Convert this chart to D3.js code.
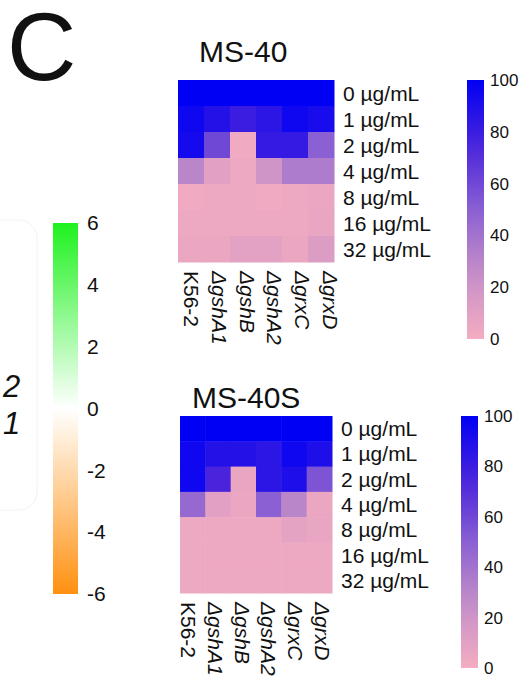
<!DOCTYPE html>
<html lang="en">
<head>
<meta charset="UTF-8">
<title>Panel C: MS-40 / MS-40S growth heatmaps</title>
<script src="https://d3js.org/d3.v7.min.js"></script>
<style>
    body { margin: 0; background: #fff; font-family: "Liberation Sans", Arial, Helvetica, sans-serif; }
    svg text { fill: #111; }
</style>
</head>
<body>
<div id="chart"></div>
<script>
// strains (columns) and concentrations (rows)
const strains = ["K56-2", "ΔgshA1", "ΔgshB", "ΔgshA2", "ΔgrxC", "ΔgrxD"];
const doses = ["0 µg/mL", "1 µg/mL", "2 µg/mL", "4 µg/mL", "8 µg/mL", "16 µg/mL", "32 µg/mL"];

// relative growth (%), one row per dose
const ms40 = [
    [100, 100, 100, 100, 100, 100],
    [95, 88, 80, 85, 95, 92],
    [93, 60, 2, 82, 82, 50],
    [30, 10, 3, 20, 35, 35],
    [2, 3, 3, 2, 3, 5],
    [3, 4, 4, 3, 3, 6],
    [5, 5, 9, 9, 5, 13]
];
const ms40s = [
    [100, 100, 100, 100, 100, 100],
    [95, 88, 88, 85, 95, 90],
    [95, 75, 6, 85, 90, 55],
    [45, 10, 5, 50, 30, 5],
    [3, 3, 3, 3, 8, 6],
    [3, 3, 3, 3, 3, 3],
    [3, 3, 3, 3, 3, 3]
];

const growthTicks = [0, 20, 40, 60, 80, 100];
const foldTicks = [-6, -4, -2, 0, 2, 4, 6];

const W = 523, H = 686;
const svg = d3.select("#chart").append("svg")
    .attr("width", W).attr("height", H);
const defs = svg.append("defs");

const growthColor = d3.scaleLinear()
    .domain([0, 25, 50, 75, 100])
    .range(["#f4adc1", "#c68fc8", "#8a60d2", "#4a24dc", "#0000f4"]);
const foldColor = d3.scaleLinear()
    .domain([-6, 0, 6])
    .range(["#ff9010", "#ffffff", "#1ef21e"]);

// panel letter
svg.append("text").attr("x", 7).attr("y", 80)
    .attr("font-size", 96).text("C");

// faint legend box remnant at left
svg.append("rect").attr("x", -30).attr("y", 220).attr("width", 67).attr("height", 290)
    .attr("rx", 18).attr("fill", "none").attr("stroke", "#f2f2f2");
svg.append("text").attr("x", 3).attr("y", 397).attr("font-size", 31)
    .attr("font-style", "italic").text("2");
svg.append("text").attr("x", 3).attr("y", 434).attr("font-size", 31)
    .attr("font-style", "italic").text("1");

function drawPanel(cfg) {
    const g = svg.append("g");
    const x = d3.scaleBand().domain(strains).range([cfg.x0, cfg.x1]);
    const y = d3.scaleBand().domain(doses).range([cfg.y0, cfg.y1]);

    g.append("text").attr("x", cfg.titleX).attr("y", cfg.titleY)
        .attr("font-size", 30).text(cfg.title);

    const cells = [];
    cfg.values.forEach((row, i) => row.forEach((v, j) => cells.push({ dose: doses[i], strain: strains[j], v })));
    g.selectAll("rect.cell").data(cells).join("rect")
        .attr("class", "cell")
        .attr("x", d => x(d.strain))
        .attr("y", d => y(d.dose))
        .attr("width", x.bandwidth() + 0.5)
        .attr("height", y.bandwidth() + 0.5)
        .attr("fill", d => growthColor(d.v));

    // dose labels on the right
    g.selectAll("text.dose").data(doses).join("text")
        .attr("class", "dose")
        .attr("x", cfg.x1 + 9)
        .attr("y", d => y(d) + y.bandwidth() / 2)
        .attr("dy", "0.36em")
        .attr("font-size", 21)
        .text(d => d);

    // strain labels, rotated
    const lx = d3.scalePoint().domain(strains).range(cfg.labelRange);
    g.selectAll("text.strain").data(strains).join("text")
        .attr("class", "strain")
        .attr("transform", d => `translate(${lx(d) - 7},${cfg.y1 + 9}) rotate(90)`)
        .attr("font-size", 21)
        .attr("font-style", d => d.startsWith("Δ") ? "italic" : "normal")
        .text(d => d);

    // colour bar
    const id = "grad-" + cfg.title;
    const grad = defs.append("linearGradient").attr("id", id)
        .attr("x1", 0).attr("y1", 1).attr("x2", 0).attr("y2", 0);
    d3.range(0, 101, 10).forEach(v => grad.append("stop")
        .attr("offset", v / 100).attr("stop-color", growthColor(v)));
    g.append("rect").attr("x", cfg.barX).attr("y", cfg.barY0)
        .attr("width", 17).attr("height", cfg.barY1 - cfg.barY0)
        .attr("fill", `url(#${id})`);
    const s = d3.scaleLinear().domain([0, 100]).range([cfg.barY1, cfg.barY0]);
    const ax = g.append("g").attr("transform", `translate(${cfg.barX + 23},0)`)
        .call(d3.axisRight(s).tickValues(growthTicks).tickSize(0).tickPadding(0));
    ax.select(".domain").remove();
    ax.selectAll("text").attr("font-size", 17)
        .attr("font-family", "'Liberation Sans', Arial, sans-serif").attr("fill", "#222");
}

drawPanel({
    title: "MS-40", titleX: 199, titleY: 62, values: ms40,
    x0: 178, x1: 334, y0: 80, y1: 262, labelRange: [191, 330],
    barX: 467, barY0: 80, barY1: 339
});
drawPanel({
    title: "MS-40S", titleX: 192, titleY: 408, values: ms40s,
    x0: 180, x1: 332, y0: 416, y1: 593, labelRange: [188, 322],
    barX: 461, barY0: 416, barY1: 668
});

// fold-change colour bar on the left
const fgrad = defs.append("linearGradient").attr("id", "fold-grad")
    .attr("x1", 0).attr("y1", 1).attr("x2", 0).attr("y2", 0);
d3.range(-6, 6.01, 1).forEach(v => fgrad.append("stop")
    .attr("offset", (v + 6) / 12).attr("stop-color", foldColor(v)));
svg.append("rect").attr("x", 53).attr("y", 223).attr("width", 25).attr("height", 371)
    .attr("fill", "url(#fold-grad)");
const fs = d3.scaleLinear().domain([-6, 6]).range([594, 223]);
const fax = svg.append("g").attr("transform", "translate(87,0)")
    .call(d3.axisRight(fs).tickValues(foldTicks).tickSize(0).tickPadding(0).tickFormat(d => String(d)));
fax.select(".domain").remove();
fax.selectAll("text").attr("font-size", 21)
    .attr("font-family", "'Liberation Sans', Arial, sans-serif").attr("fill", "#111");
</script>
</body>
</html>
